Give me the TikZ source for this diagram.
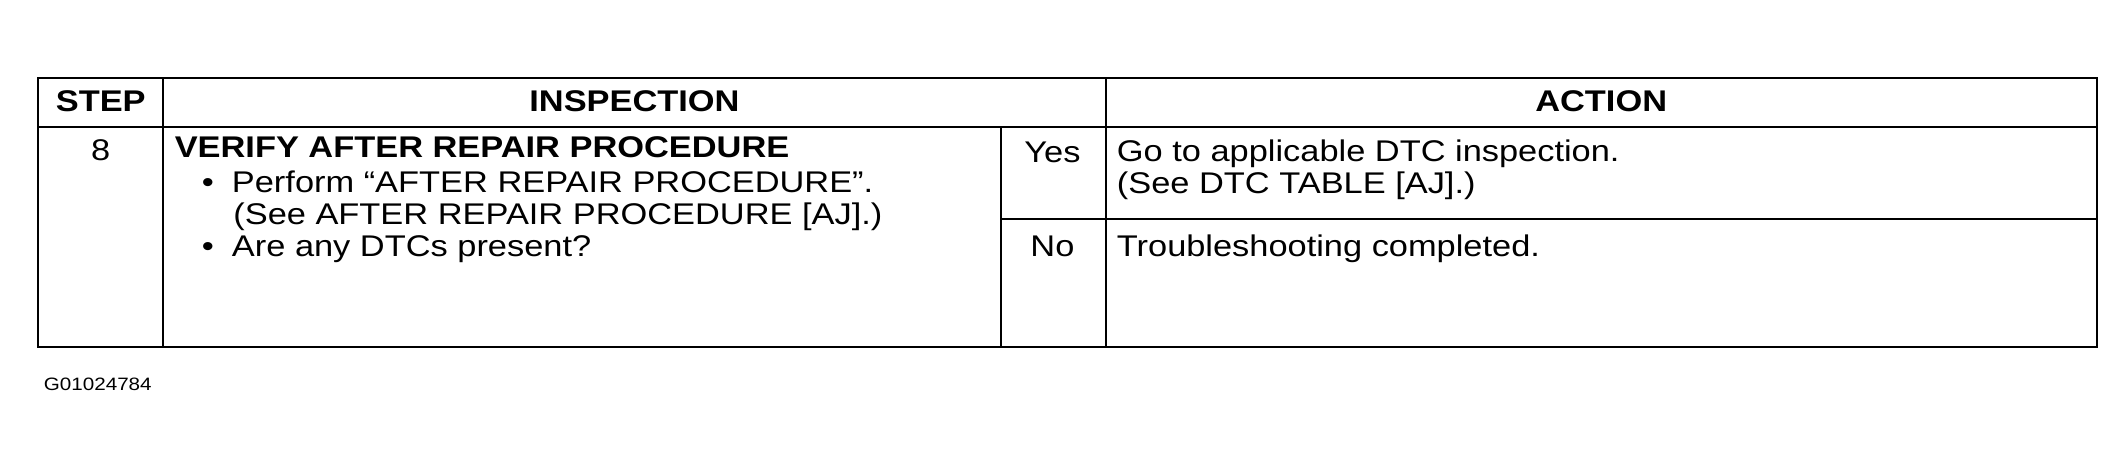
\documentclass[tikz,border=0pt]{standalone}
\usepackage{fontspec}
\setmainfont[FakeStretch=1.15]{Liberation Sans}
\usetikzlibrary{positioning}
\tikzset{hd/.style={font={\fontsize{12.5}{13}\selectfont\bfseries}},
  cell/.style={anchor=north west, inner sep=0pt, align=left},
  rule/.style={draw=black, line width=0.9pt}}
\begin{document}
\begin{tikzpicture}[x=0.02cm, y=-0.02cm, font={\fontsize{12.5}{13.6}\selectfont}]
      \useasboundingbox (0,0) rectangle (1560,341.5);
      % frame and rules
      \draw[rule] (28,57) rectangle (1540,255);
      \draw[rule] (28,93) -- (1540,93);
      \draw[rule] (120,57) -- (120,255);
      \draw[rule] (812,57) -- (812,255);
      \draw[rule] (735,93) -- (735,255);
      \draw[rule] (735,161) -- (1540,161);
      % header
      \node[hd] (step) at (74,74) {STEP};
      \node[hd] (insp) at (466,74) {INSPECTION};
      \node[hd] (act) at (1176,74) {ACTION};
      % body
      \node (num) at (74,110) {8};
      \node[cell, hd] (title) at (128,100) {VERIFY AFTER REPAIR PROCEDURE};
      \node[cell] (b1) at (148,125) {\textbullet\hspace{0.6em}Perform “AFTER REPAIR PROCEDURE”.\\
        \hspace{1.05em}(See AFTER REPAIR PROCEDURE [AJ].)};
      \node[cell] (b2) at (148,173) {\textbullet\hspace{0.6em}Are any DTCs present?};
      \node (yes) at (773,112) {Yes};
      \node (no) at (773,181) {No};
      \node[cell] (goto) at (820,102) {Go to applicable DTC inspection.\\(See DTC TABLE [AJ].)};
      \node[cell] (done) at (820,172) {Troubleshooting completed.};
      \node[anchor=west, font={\fontsize{7.5}{9}\selectfont}] (code) at (26,282) {G01024784};
\end{tikzpicture}
\end{document}
